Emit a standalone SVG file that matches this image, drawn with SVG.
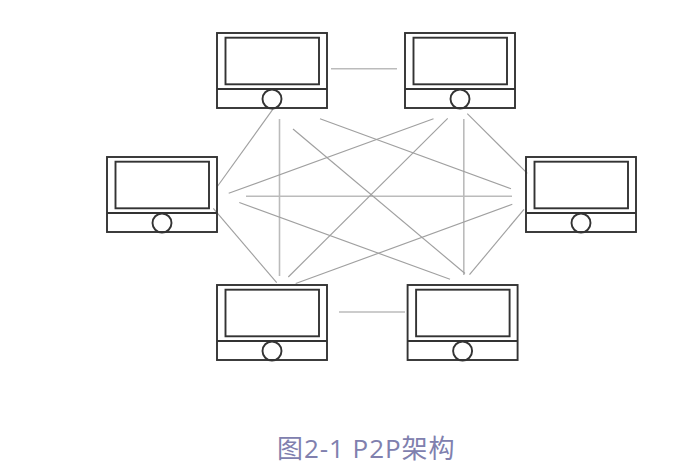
<svg xmlns="http://www.w3.org/2000/svg" width="687" height="472" viewBox="0 0 687 472">
<defs>
<style>
.o{fill:none;stroke:#333;stroke-width:1.9}
.c{stroke-linecap:butt;fill:none}
.t{stroke:#bbb;stroke-width:1.6}
.d{stroke:#a0a0a0;stroke-width:1.15}
.cap{font-family:"Open Sans","Noto Sans CJK SC",sans-serif;font-size:26px;letter-spacing:.95px;fill:#8080ae}
</style>
<g id="pc">
<rect class="o" x="0" y="0" width="110" height="75"/>
<rect class="o" x="8.5" y="4.7" width="93.5" height="46.6"/>
<path class="o" d="M0 56H110"/>
<circle class="o" cx="55" cy="66" r="9.5"/>
</g>
</defs>
<rect width="687" height="472" fill="#fff"/>
<g id="connectors" class="c">
<path class="t" d="M331 68.8H397"/>
<path class="t" d="M339 312H405"/>
<path class="t" d="M279.5 119V276"/>
<path class="t" d="M463.8 119V275"/>
<path class="t" d="M246 196.3H512"/>
<path class="d" d="M273.3 108.7L217.7 186"/>
<path class="d" d="M293 129L465 273.5"/>
<path class="d" d="M320 118.7L511 188.7"/>
<path class="d" d="M228.7 193.3L433.5 118.7"/>
<path class="d" d="M239.3 202.5L450 279.3"/>
<path class="d" d="M213.3 208.3L276.7 282.7"/>
<path class="d" d="M288.3 277L447.7 118.3"/>
<path class="d" d="M295.7 283.5L512.3 204.3"/>
<path class="d" d="M467.3 113.7L527.3 173.3"/>
<path class="d" d="M469.5 274.7L524 209.3"/>
</g>
<g id="node-top-left"><use href="#pc" x="217" y="33"/></g>
<g id="node-top-right"><use href="#pc" x="405" y="33"/></g>
<g id="node-left"><use href="#pc" x="107" y="157"/></g>
<g id="node-right"><use href="#pc" x="526" y="157"/></g>
<g id="node-bottom-left"><use href="#pc" x="217" y="285"/></g>
<g id="node-bottom-right"><use href="#pc" x="407.6" y="285"/></g>
<text class="cap" x="277" y="458">图2-1 P2P架构</text>
</svg>
